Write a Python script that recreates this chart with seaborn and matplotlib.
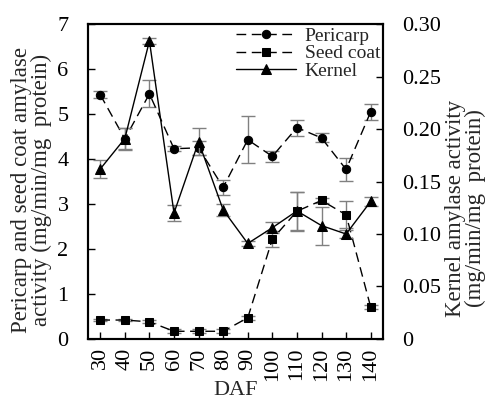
import numpy as np
import pandas as pd
import seaborn as sns
import matplotlib.pyplot as plt

daf = [30, 40, 50, 60, 70, 80, 90, 100, 110, 120, 130, 140]
pericarp = [5.43, 4.45, 5.45, 4.23, 4.25, 3.37, 4.43, 4.06, 4.70, 4.47, 3.77, 5.05]
pericarp_err = [0.08, 0.25, 0.30, 0.05, 0.15, 0.17, 0.52, 0.12, 0.18, 0.10, 0.25, 0.18]
seedcoat = [0.42, 0.42, 0.38, 0.17, 0.17, 0.17, 0.47, 2.22, 2.84, 3.08, 2.76, 0.71]
seedcoat_err = [0.03, 0.03, 0.03, 0.04, 0.04, 0.04, 0.04, 0.17, 0.43, 0.05, 0.30, 0.04]
kernel = [0.162, 0.191, 0.284, 0.120, 0.188, 0.123, 0.091, 0.106, 0.122, 0.108, 0.100, 0.131]
kernel_err = [0.009, 0.010, 0.003, 0.008, 0.013, 0.006, 0.002, 0.005, 0.018, 0.018, 0.004, 0.004]

sns.set_theme(style="ticks")
plt.rcParams['font.family'] = ['Liberation Serif', 'DejaVu Serif']
fs = 16
plt.rcParams['font.size'] = fs

df = pd.DataFrame({'DAF': daf, 'Pericarp': pericarp, 'Seed coat': seedcoat, 'Kernel': kernel})

fig, ax = plt.subplots(figsize=(4.86, 4.03), dpi=100)
ax2 = ax.twinx()

ax.errorbar(daf, pericarp, yerr=pericarp_err, fmt='none', ecolor='gray', capsize=5, elinewidth=1)
ax.errorbar(daf, seedcoat, yerr=seedcoat_err, fmt='none', ecolor='gray', capsize=5, elinewidth=1)
ax2.errorbar(daf, kernel, yerr=kernel_err, fmt='none', ecolor='gray', capsize=5, elinewidth=1)

dash = (0, (7, 4))
sns.lineplot(data=df, x='DAF', y='Pericarp', ax=ax, color='black', marker='o', markersize=6,
             linestyle=dash, linewidth=1, markeredgecolor='black', label='Pericarp', legend=False)
sns.lineplot(data=df, x='DAF', y='Seed coat', ax=ax, color='black', marker='s', markersize=6,
             linestyle=dash, linewidth=1, markeredgecolor='black', label='Seed coat', legend=False)
sns.lineplot(data=df, x='DAF', y='Kernel', ax=ax2, color='black', marker='^', markersize=7.5,
             linestyle='-', linewidth=1, markeredgecolor='black', label='Kernel', legend=False)

ax.set_xlim(25, 145)
ax.set_ylim(0, 7)
ax2.set_ylim(0, 0.30)
ax.set_xticks(daf)
ax.set_xticklabels([str(d) for d in daf], rotation=90)
ax.set_yticks(range(8))
ax2.set_yticks([0, 0.05, 0.10, 0.15, 0.20, 0.25, 0.30])
ax2.set_yticklabels(['0', '0.05', '0.10', '0.15', '0.20', '0.25', '0.30'])

ax.set_xlabel('DAF', fontsize=fs, labelpad=0)
ax.set_ylabel('Pericarp and seed coat amylase\nactivity (mg/min/mg  protein)', fontsize=16.5, linespacing=0.95)
ax2.set_ylabel('Kernel amylase activity\n(mg/min/mg  protein)', fontsize=16.5, linespacing=0.95)
ax.yaxis.set_label_coords(-0.122, 0.473)
ax2.yaxis.set_label_coords(1.21, 0.416)

for a in (ax, ax2):
    a.tick_params(direction='in', length=5, width=1, labelsize=fs, colors='black')
    for s in a.spines.values():
        s.set_linewidth(1.5)
        s.set_color('black')
ax.tick_params(axis='x', pad=6)
ax.tick_params(axis='y', pad=14)
ax2.tick_params(axis='y', pad=13.5)

h1, l1 = ax.get_legend_handles_labels()
h2, l2 = ax2.get_legend_handles_labels()
leg = ax.legend(h1 + h2, l1 + l2, loc='upper right', frameon=False, fontsize=14,
                handlelength=3.1, borderaxespad=0.15, borderpad=0.0, labelspacing=0.0, handletextpad=0.45)

fig.subplots_adjust(left=0.181, right=0.788, top=0.94, bottom=0.159)
fig.savefig('out.png', dpi=100)
